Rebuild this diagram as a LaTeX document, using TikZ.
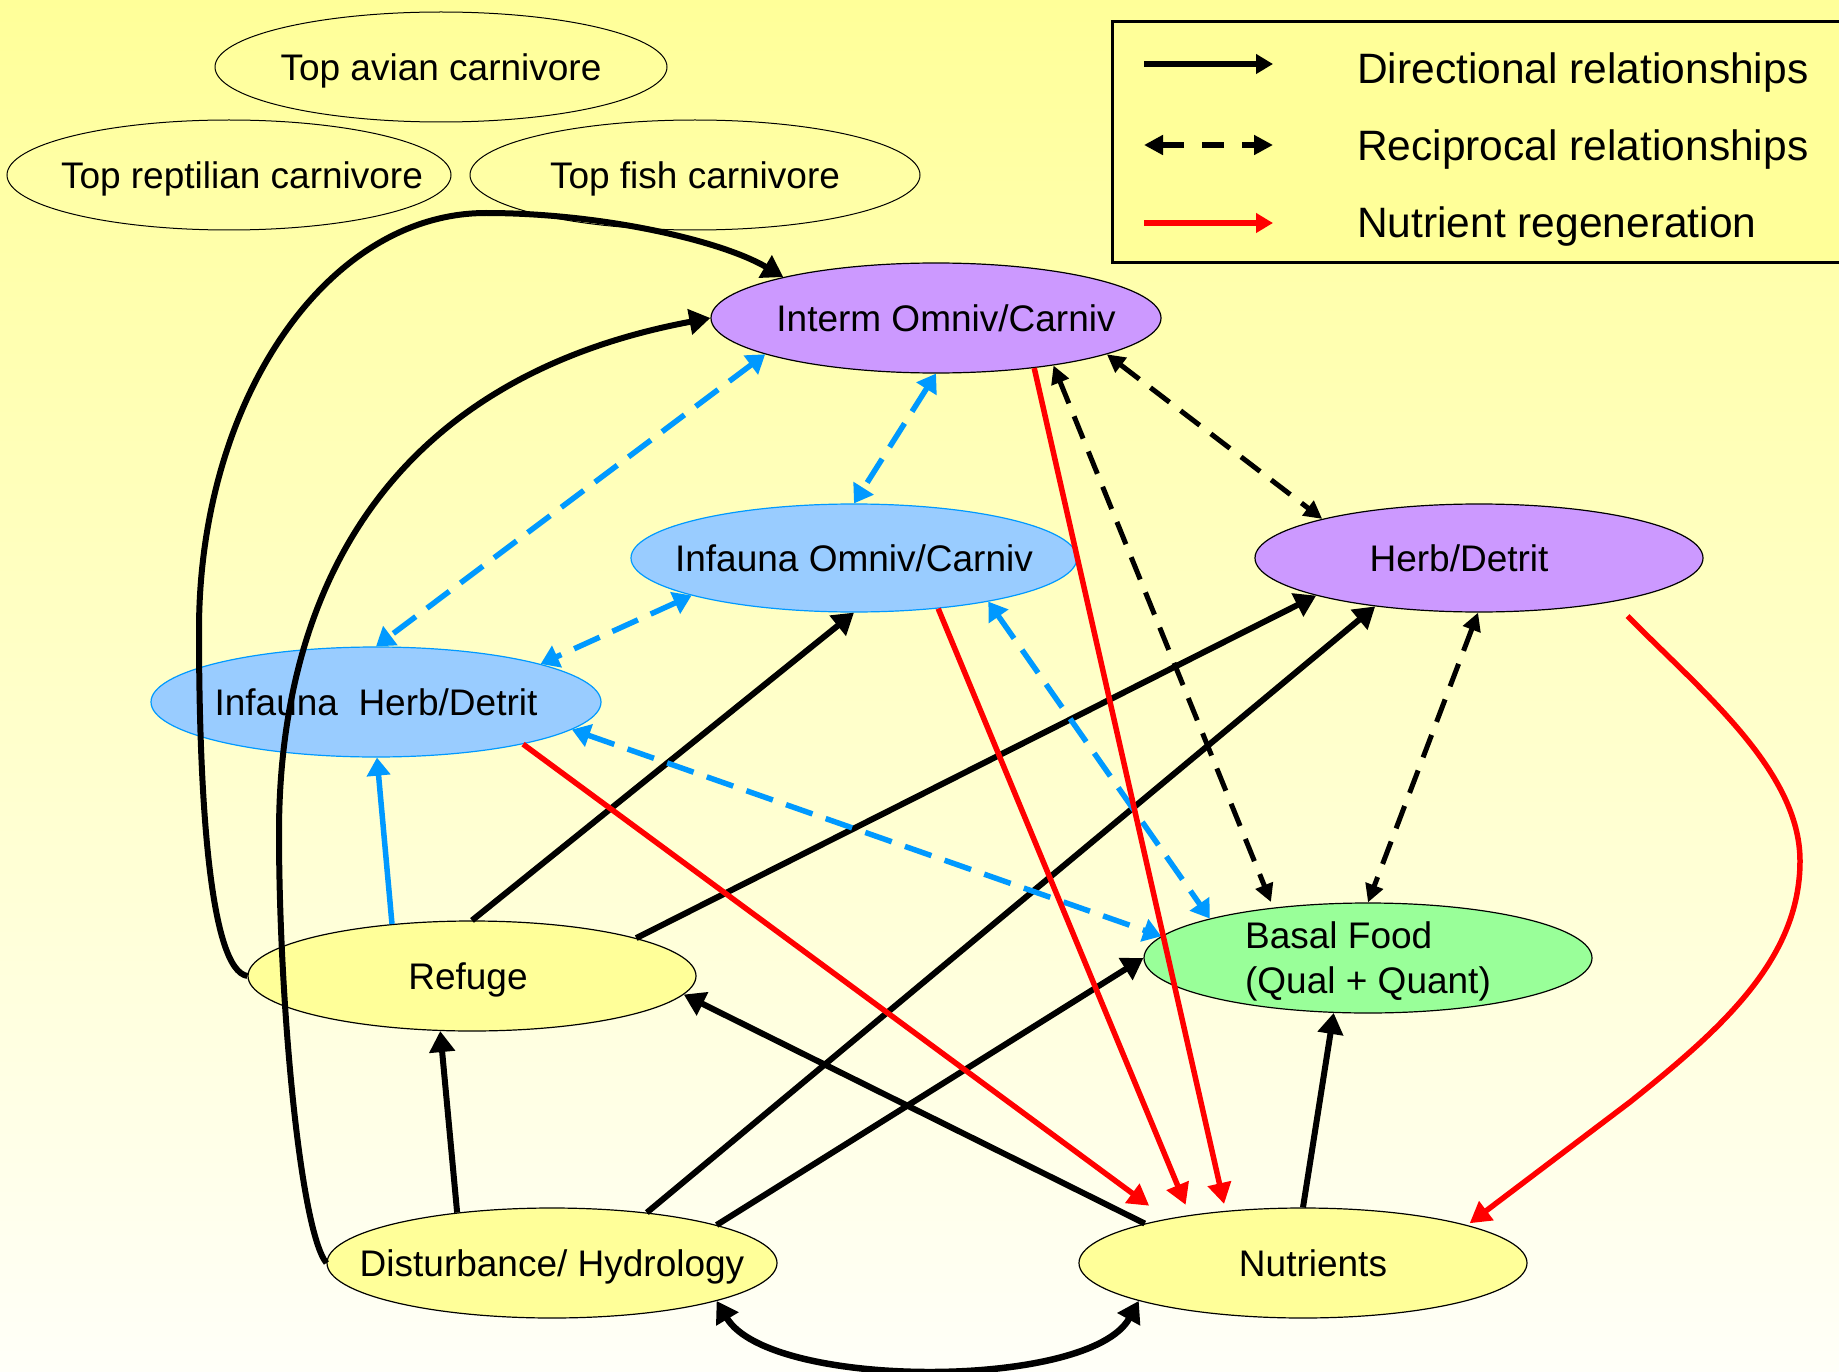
\documentclass[tikz,border=0pt]{standalone}
\usepackage{fontspec}
\setmainfont{Liberation Sans}
\usetikzlibrary{arrows.meta,shapes.geometric}
\definecolor{bgtop}{RGB}{255,255,153}
\definecolor{bgbot}{RGB}{255,255,248}
\definecolor{lav}{RGB}{204,153,255}
\definecolor{lblue}{RGB}{153,204,255}
\definecolor{sky}{RGB}{0,153,255}
\definecolor{lgreen}{RGB}{153,255,153}
\definecolor{lyel}{RGB}{255,255,153}
\begin{document}
\begin{tikzpicture}[x=1pt,y=-1pt,
  ell/.style={ellipse, draw=black, line width=1.2pt, inner sep=-80pt,
    minimum width=448pt, minimum height=110pt,
    text height=26.6pt, text depth=0pt,
    font=\fontsize{37pt}{45pt}\selectfont},
  topell/.style={ell, line width=1pt},
  purp/.style={ell, fill=lav},
  infa/.style={ell, fill=lblue, draw=sky},
  yel/.style={ell, fill=lyel},
  grn/.style={ell, fill=lgreen},
  btip/.tip={Triangle[length=21pt,width=25pt]},
  dtip/.tip={Triangle[length=18pt,width=18pt]},
  ltip/.tip={Triangle[length=18pt,width=23pt]},
  rtip/.tip={Triangle[length=21pt,width=23pt]},
  dirarrow/.style={draw=black, line width=6pt, -btip},
  regen/.style={draw=red, line width=5.5pt, -rtip},
  recip/.style={draw=black, line width=5pt, dash pattern=on 24pt off 14pt, dtip-dtip},
  bluerecip/.style={draw=sky, line width=5.5pt, dash pattern=on 28pt off 14pt, ltip-ltip},
  bluesolid/.style={draw=sky, line width=5.5pt, -ltip},
  legtext/.style={anchor=base west, inner sep=0pt, font=\fontsize{42.5pt}{50pt}\selectfont}
]
\useasboundingbox (0,0) rectangle (1839,1372);
\shade[top color=bgtop, bottom color=bgbot] (0,0) rectangle (1839,1372);

% legend
\draw[line width=3pt, fill=lyel] (1112,22) rectangle (1855,263);
\coordinate (l1a) at (1144,64);  \coordinate (l1b) at (1273,64);
\coordinate (l2a) at (1144,145); \coordinate (l2b) at (1273,145);
\coordinate (l3a) at (1144,223); \coordinate (l3b) at (1273,223);
\draw[line width=6.5pt, -{Triangle[length=17pt,width=19pt]}] (l1a) -- (l1b);
\draw[line width=6.5pt, dash pattern=on 22pt off 18pt,
  {Triangle[length=19pt,width=19pt]}-{Triangle[length=19pt,width=19pt]}] (l2a) -- (l2b);
\draw[red, line width=6.5pt, -{Triangle[length=17pt,width=19pt]}] (l3a) -- (l3b);
\node[legtext] (lt1) at (1357,84) {Directional relationships};
\node[legtext] (lt2) at (1357,161) {Reciprocal relationships};
\node[legtext] (lt3) at (1357,238) {Nutrient regeneration};

% nodes
\node[topell, minimum width=452pt] (avian) at (441,67) {Top avian carnivore};
\node[topell, minimum width=444pt] (reptil) at (229,175) {\hspace*{26pt}Top reptilian carnivore};
\node[topell, minimum width=450pt] (fish) at (695,175) {Top fish carnivore};
\node[purp, minimum width=450pt] (interm) at (936,318) {\hspace*{20pt}Interm Omniv/Carniv};
\node[infa, minimum width=446pt, minimum height=108pt] (io) at (854,558) {Infauna Omniv/Carniv};
\node[purp, minimum height=108pt] (herb) at (1479,558) {Herb/Detrit\hspace*{40pt}};
\node[infa, minimum width=450pt] (ih) at (376,702) {Infauna\ \ Herb/Detrit};
\node[yel] (refuge) at (472,976) {Refuge\hspace*{8pt}};
\node[grn] (basal) at (1368,958) {\raisebox{3pt}{\begin{tabular}{@{}l@{}}Basal Food\\(Qual + Quant)\end{tabular}}};
\node[yel, minimum width=450pt] (dist) at (552,1263) {Disturbance/ Hydrology};
\node[yel] (nutr) at (1303,1263) {\hspace*{20pt}Nutrients};

% black directional
\draw[dirarrow] (refuge.west) .. controls (210,970) and (199,800) .. (199,630)
  .. controls (199,400) and (327,213) .. (486,213)
  .. controls (600,213) and (720,240) .. (interm.165.7);
\draw[dirarrow] (dist.west) .. controls (300,1230) and (279,1000) .. (279,833)
  .. controls (279,600) and (380,380) .. (interm.west);
\draw[dirarrow] (dist.152.7) -- (refuge.240.4);
\draw[dirarrow] (refuge.north) -- (io.south);
\draw[dirarrow] (refuge.13.9) -- (herb.193.3);
\draw[dirarrow] (dist.28) -- (herb.205);
\draw[dirarrow] (dist.13.4) -- (basal.west);
\draw[dirarrow] (nutr.166.65) -- (refuge.-5.2);
\draw[dirarrow] (nutr.north) -- (basal.238);
\draw[dirarrow, line width=6.5pt, btip-btip] (dist.-13.4) .. controls (770,1390) and (1090,1390) .. (nutr.193.9);

% blue
\draw[bluesolid] (refuge.147.3) -- (ih.-89);
\draw[bluerecip] (interm.192.85) -- (ih.north);
\draw[bluerecip] (interm.south) -- (io.north);
\draw[bluerecip] (io.193.2) -- (ih.13.75);
\draw[bluerecip] (ih.-8) -- (basal.174.8);
\draw[bluerecip] (io.-18.2) -- (basal.166.8);

% black reciprocal
\draw[recip, shorten >=6pt] (interm.-22.6) -- (basal.152.9);
\draw[recip] (interm.-12.5) -- (herb.166.6);
\draw[recip] (herb.-91) -- (basal.north);

% red regeneration
\draw[regen, shorten >=22pt] (ih.-16.4) -- (nutr.162.4);
\draw[regen, shorten >=11pt] (io.-31.8) -- (nutr.157.3);
\draw[regen, shorten >=7pt] (interm.-27.4) -- (nutr.146.3);
\draw[regen, shorten <=20pt, shorten >=3pt] (herb.-18.6) .. controls (1700,690) and (1800,770) .. (1800,861)
  .. controls (1800,960) and (1720,1030) .. (1630,1102) -- (nutr.13);
\end{tikzpicture}
\end{document}
